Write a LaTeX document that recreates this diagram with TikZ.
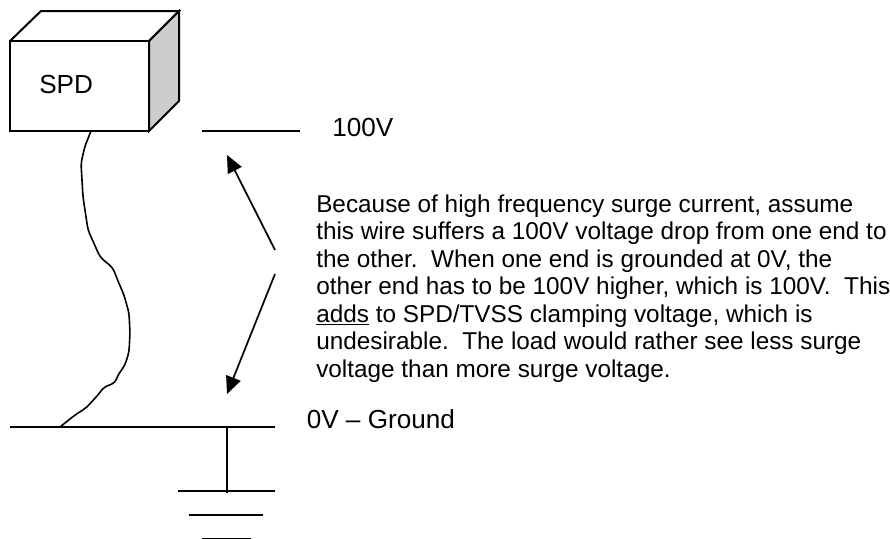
\documentclass[tikz,border=0pt]{standalone}
\usepackage{fontspec}
\setmainfont{Liberation Sans}
\usetikzlibrary{arrows.meta}
\tikzset{line/.style={draw,line width=1.5pt},
         wire/.style={draw,line width=1.2pt,rounded corners=3pt},
         pointer/.style={draw,line width=1.3pt,-{Triangle[length=13pt,width=11.5pt]}},
         label/.style={inner sep=0pt,anchor=base west,font=\fontsize{19.6pt}{23pt}\selectfont},
         notetext/.style={inner sep=0pt,anchor=north west,align=left,font=\fontsize{18.25pt}{20.6pt}\selectfont},
         x=0.75pt,y=-0.75pt}

\begin{document}
\begin{tikzpicture}
\useasboundingbox (0,0) rectangle (890,539);
 \draw [line,fill=black!20] (149,41) -- (179,11) -- (179,101) -- (149,131) -- cycle;
 \draw [line] (10,41) -- (41,11) -- (179,11) -- (149,41);
 \draw [line] (10,41) rectangle (149,131);
 \node [label] (spd) at (39,93) {SPD};
 \coordinate (wiretop) at (91,131);
 \coordinate (wirebottom) at (60,427);
 \draw [wire] (wiretop) -- (85,146) -- (81,163) -- (83,197) -- (88,230) -- (100,257) -- (113,268)
   -- (118,281) -- (124,295) -- (129,313) -- (130,333) -- (129,352) -- (125,365) -- (118,375)
   -- (115,383) -- (104,387) -- (98,395) -- (86,408) -- (75,415) -- (wirebottom);
 \coordinate (highleft) at (202,131);
 \coordinate (highright) at (300,131);
 \draw [line] (highleft) -- (highright);
 \node [label] (high) at (332,136) {100V};
 \coordinate (groundleft) at (10,427);
 \coordinate (groundright) at (275,427);
 \draw [line] (groundleft) -- (groundright);
 \node [label] (zero) at (306.5,428) {0V – Ground};
 \coordinate (stemtop) at (227,427);
 \coordinate (stembottom) at (227,493);
 \draw [line] (stemtop) -- (stembottom);
 \coordinate (barone) at (178,491);
 \coordinate (baronee) at (275,491);
 \draw [line] (barone) -- (baronee);
 \coordinate (bartwo) at (189,515);
 \coordinate (bartwoe) at (263,515);
 \draw [line] (bartwo) -- (bartwoe);
 \coordinate (barthree) at (202,538.5);
 \coordinate (barthreee) at (251,538.5);
 \draw [line] (barthree) -- (barthreee);
 \node [notetext] (note) at (316,194.5) {Because of high frequency surge current, assume\\
this wire suffers a 100V voltage drop from one end to\\
the other.\ \ When one end is grounded at 0V, the\\
other end has to be 100V higher, which is 100V.\ \ This\\
\underline{adds} to SPD/TVSS clamping voltage, which is\\
undesirable.\ \ The load would rather see less surge\\
voltage than more surge voltage.};
 \coordinate (upfrom) at (275,250);
 \coordinate (upto) at (227,155);
 \coordinate (downfrom) at (275,274);
 \coordinate (downto) at (227,394);
 \draw [pointer] (upfrom) -- (upto);
 \draw [pointer] (downfrom) -- (downto);
\end{tikzpicture}
\end{document}
